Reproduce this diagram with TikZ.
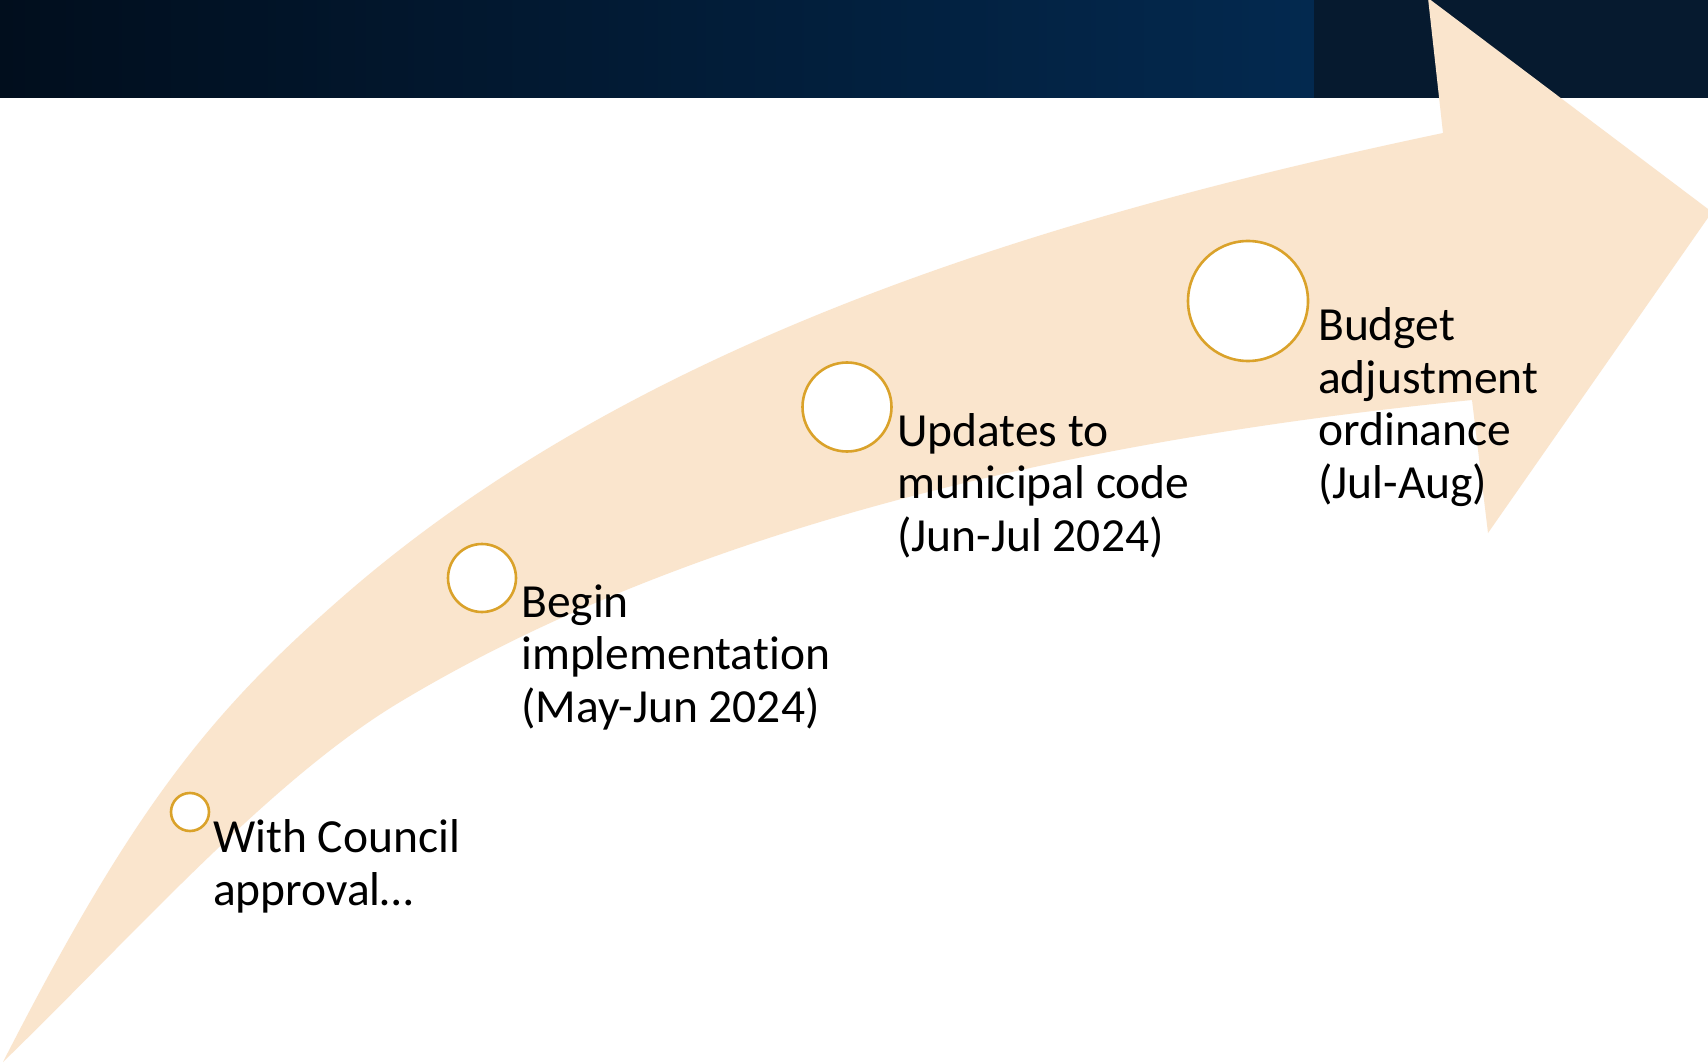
\documentclass[tikz,border=0pt]{standalone}
\usepackage{fontspec}
\setmainfont{Carlito}[Ligatures=CommonOff]
\definecolor{peach}{HTML}{FAE5CD}
\definecolor{ringgold}{HTML}{DAA22A}
\definecolor{navyleft}{HTML}{010E1D}
\definecolor{navyright}{HTML}{03294F}
\definecolor{navydark}{HTML}{061A2F}
\tikzset{
  ring/.style={circle, draw=ringgold, line width=2.6pt, fill=white, inner sep=0pt},
  steptext/.style={anchor=base west, align=left, inner sep=0pt, font=\fontsize{47.5}{52.5}\selectfont}
}
\begin{document}
\begin{tikzpicture}[x=1pt,y=-1pt]
        \useasboundingbox (0,0) rectangle (1708,1064);
        \fill[white] (0,0) rectangle (1708,1064);
        % banner
        \shade[left color=navyleft, right color=navyright] (0,0) rectangle (1314,98);
        \fill[navydark] (1314,0) rectangle (1708,98);
        % curved arrow
        \fill[peach] (3,1062) .. controls (133,808) and (209,714) .. (339,600)
            .. controls (639,336) and (1063,213) .. (1443,133)
            -- (1428,-2) -- (1712,212) -- (1488,533) -- (1472,400)
            .. controls (1092,438) and (700,522) .. (400,702)
            .. controls (270,780) and (133,936) .. (3,1062) -- cycle ;
        % milestones
        \node[ring, minimum size=38pt] (approval) at (190,812) {};
        \node[ring, minimum size=68pt] (implement) at (482,578) {};
        \node[ring, minimum size=89pt] (code) at (847,407) {};
        \node[ring, minimum size=120pt] (budget) at (1248,301) {};
        % labels (base = last line)
        \node[steptext] (approvaltext) at (213,905) {With Council\\approval…};
        \node[steptext] (implementtext) at (521,722) {Begin\\implementation\\(May-Jun 2024)};
        \node[steptext] (codetext) at (897,551) {Updates to\\municipal code\\(Jun-Jul 2024)};
        \node[steptext] (budgettext) at (1318,498) {Budget\\adjustment\\ordinance\\(Jul-Aug)};
\end{tikzpicture}
\end{document}
